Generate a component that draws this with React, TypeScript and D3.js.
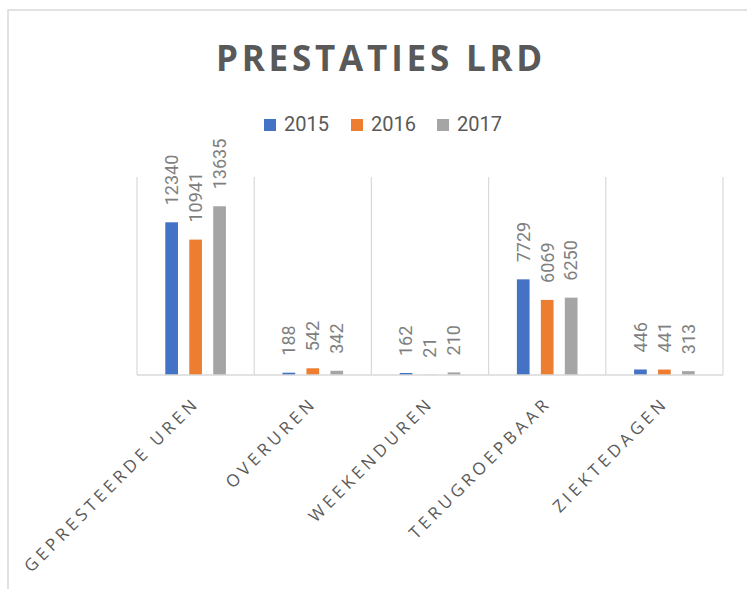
import React from 'react';
import * as d3 from 'd3';

const categories = ['GEPRESTEERDE UREN', 'OVERUREN', 'WEEKENDUREN', 'TERUGROEPBAAR', 'ZIEKTEDAGEN'];
const years = ['2015', '2016', '2017'];
const values2015 = [12340, 188, 162, 7729, 446];
const values2016 = [10941, 542, 21, 6069, 441];
const values2017 = [13635, 342, 210, 6250, 313];
const yMax = 16000;

const colors = ['#4472C4', '#ED7D31', '#A5A5A5'];

export default function App() {
  const width = 747;
  const height = 589;
  const plot = { left: 137, right: 723, top: 177, bottom: 375 };

  const series = [values2015, values2016, values2017];

  // category scale
  const x0 = d3.scaleBand<string>()
    .domain(categories)
    .range([plot.left, plot.right]);

  // bars inside a category
  const x1 = d3.scaleBand<string>()
    .domain(years)
    .range([0, x0.bandwidth()])
    .paddingInner(0.47)
    .paddingOuter(1.18);

  const y = d3.scaleLinear()
    .domain([0, yMax])
    .range([plot.bottom, plot.top]);

  const font = 'Roboto, "Open Sans", sans-serif';

  // grid positions at band edges
  const edges = categories.map(c => x0(c) as number).concat([plot.right]);

  const legendX = [264, 351, 437];

  return (
    <svg
      width={width}
      height={height}
      style={{ position: 'absolute', left: 0, top: 0, background: '#fff' }}
    >
      <rect x={8} y={10} width={760} height={620} fill="#fff" stroke="#d9d9d9" strokeWidth={1.5} />

      <text
        x={381}
        y={71}
        textAnchor="middle"
        fontFamily='"Open Sans", sans-serif'
        fontWeight="bold"
        fontSize={35}
        letterSpacing={3.8}
        fill="#595959"
      >
        PRESTATIES LRD
      </text>

      {years.map((yr, i) => (
        <g key={yr} transform={`translate(${legendX[i]},0)`}>
          <rect x={0} y={119} width={12} height={12} fill={colors[i]} />
          <text x={20} y={131} fontFamily={font} fontSize={20} fill="#595959">{yr}</text>
        </g>
      ))}

      {edges.map((ex, i) => (
        <line key={i} x1={ex} x2={ex} y1={plot.top} y2={plot.bottom} stroke="#d9d9d9" strokeWidth={1.2} />
      ))}

      {categories.map((c, ci) => (
        <g key={c} transform={`translate(${x0(c)},0)`}>
          {years.map((yr, si) => {
            const v = series[si][ci];
            const bx = x1(yr) as number;
            const cx = bx + x1.bandwidth() / 2;
            const ly = y(v) - 17;
            return (
              <g key={yr}>
                <rect x={bx} y={y(v)} width={x1.bandwidth()} height={plot.bottom - y(v)} fill={colors[si]} />
                <text
                  transform={`translate(${cx},${ly}) rotate(-90)`}
                  dy="0.35em"
                  fontFamily={font}
                  fontSize={18}
                  fill="#7f7f7f"
                >
                  {v}
                </text>
              </g>
            );
          })}
        </g>
      ))}

      <line x1={plot.left} x2={plot.right} y1={plot.bottom} y2={plot.bottom} stroke="#d9d9d9" strokeWidth={1.5} />

      {categories.map(c => {
        const cx = (x0(c) as number) + x0.bandwidth() / 2 + 5;
        return (
          <text
            key={c}
            transform={`translate(${cx},404) rotate(-45)`}
            textAnchor="end"
            fontFamily='"Open Sans", sans-serif'
            fontSize={17}
            letterSpacing={4}
            fill="#595959"
          >
            {c}
          </text>
        );
      })}
    </svg>
  );
}
